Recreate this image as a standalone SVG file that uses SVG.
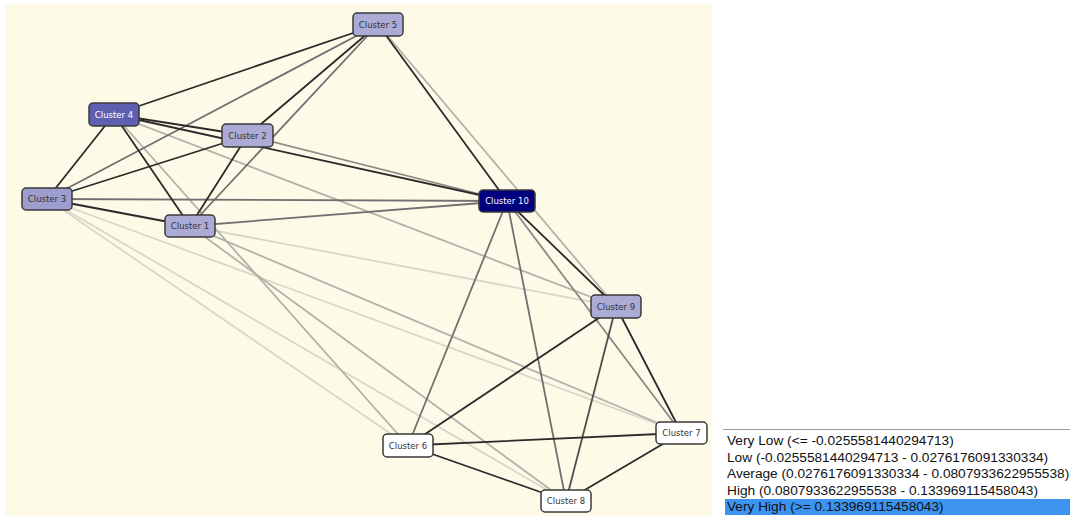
<svg xmlns="http://www.w3.org/2000/svg" width="1070" height="516" viewBox="0 0 1070 516">
<style>
.e{fill:none;stroke-width:1.8;stroke-linecap:round}
.d{stroke:#2b2b2b}
.md{stroke:#4f4f4f}
.m{stroke:#707070}
.ml{stroke:#8a8a86}
.l{stroke:#b2b2aa}
.vl{stroke:#d9d7c8}
.n rect{stroke:#3a3a3a;stroke-width:1.5}
.n text{font-family:"DejaVu Sans",Verdana,sans-serif;font-size:8.5px;text-anchor:middle;fill:#333}
.pale rect{fill:#ababd6}
.mid rect{fill:#9d9dcf}
.strong rect{fill:#5f5fb2}
.navy rect{fill:#00007f}
.white rect{fill:#ffffff}
.strong text,.navy text{fill:#ffffff}
.lg{font-family:"Liberation Sans",Arial,sans-serif;font-size:13.7px;fill:#111}
</style>
<rect x="0" y="0" width="1070" height="516" fill="#ffffff"/>
<rect x="5" y="4" width="707" height="512" fill="#fdfbe8"/>
<g id="connectors">
<line class="e vl" x1="47" y1="199" x2="616" y2="306.5"/>
<line class="e vl" x1="47" y1="199" x2="681.5" y2="433"/>
<line class="e vl" x1="47" y1="199" x2="566" y2="501"/>
<line class="e vl" x1="47" y1="199" x2="408" y2="445.5"/>
<line class="e l" x1="114" y1="114.5" x2="408" y2="445.5"/>
<line class="e l" x1="114" y1="114.5" x2="616" y2="306.5"/>
<line class="e l" x1="190" y1="226" x2="681.5" y2="433"/>
<line class="e l" x1="190" y1="226" x2="566" y2="501"/>
<line class="e l" x1="378" y1="24.5" x2="616" y2="306.5"/>
<line class="e ml" x1="247.5" y1="135.5" x2="507" y2="201"/>
<line class="e m" x1="47" y1="199" x2="507" y2="201"/>
<line class="e m" x1="190" y1="226" x2="507" y2="201"/>
<line class="e m" x1="378" y1="24.5" x2="47" y2="199"/>
<line class="e m" x1="378" y1="24.5" x2="190" y2="226"/>
<line class="e m" x1="507" y1="201" x2="408" y2="445.5"/>
<line class="e m" x1="507" y1="201" x2="566" y2="501"/>
<line class="e ml" x1="507" y1="201" x2="681.5" y2="433"/>
<line class="e md" x1="616" y1="306.5" x2="566" y2="501"/>
<line class="e d" x1="114" y1="114.5" x2="47" y2="199"/>
<line class="e d" x1="114" y1="114.5" x2="190" y2="226"/>
<line class="e d" x1="114" y1="114.5" x2="247.5" y2="135.5"/>
<line class="e d" x1="114" y1="114.5" x2="378" y2="24.5"/>
<line class="e d" x1="114" y1="114.5" x2="507" y2="201"/>
<line class="e d" x1="47" y1="199" x2="247.5" y2="135.5"/>
<line class="e d" x1="47" y1="199" x2="190" y2="226"/>
<line class="e d" x1="247.5" y1="135.5" x2="190" y2="226"/>
<line class="e d" x1="247.5" y1="135.5" x2="378" y2="24.5"/>
<line class="e d" x1="378" y1="24.5" x2="507" y2="201"/>
<line class="e d" x1="507" y1="201" x2="616" y2="306.5"/>
<line class="e d" x1="616" y1="306.5" x2="681.5" y2="433"/>
<line class="e d" x1="616" y1="306.5" x2="408" y2="445.5"/>
<line class="e d" x1="408" y1="445.5" x2="681.5" y2="433"/>
<line class="e d" x1="408" y1="445.5" x2="566" y2="501"/>
<line class="e d" x1="681.5" y1="433" x2="566" y2="501"/>
</g>
<g id="cluster5" class="n pale"><rect x="353" y="13" width="50" height="23" rx="4"/><text x="378" y="27.5">Cluster 5</text></g>
<g id="cluster4" class="n strong"><rect x="89" y="103" width="50" height="23" rx="4"/><text x="114" y="117.5">Cluster 4</text></g>
<g id="cluster2" class="n pale"><rect x="222" y="124" width="51" height="23" rx="4"/><text x="247.5" y="138.5">Cluster 2</text></g>
<g id="cluster3" class="n mid"><rect x="22" y="188" width="50" height="22" rx="4"/><text x="47" y="202">Cluster 3</text></g>
<g id="cluster1" class="n pale"><rect x="165" y="215" width="50" height="22" rx="4"/><text x="190" y="229">Cluster 1</text></g>
<g id="cluster10" class="n navy"><rect x="479" y="190" width="56" height="22" rx="4"/><text x="507" y="204">Cluster 10</text></g>
<g id="cluster9" class="n pale"><rect x="591" y="295" width="50" height="23" rx="4"/><text x="616" y="309.5">Cluster 9</text></g>
<g id="cluster6" class="n white"><rect x="383" y="434" width="50" height="23" rx="4"/><text x="408" y="448.5">Cluster 6</text></g>
<g id="cluster7" class="n white"><rect x="656" y="422" width="51" height="22" rx="4"/><text x="681.5" y="436">Cluster 7</text></g>
<g id="cluster8" class="n white"><rect x="541" y="490" width="50" height="22" rx="4"/><text x="566" y="504">Cluster 8</text></g>
<g id="legend">
<line x1="723" y1="429.5" x2="1070" y2="429.5" stroke="#9a9a9a" stroke-width="1"/>
<rect x="725" y="499" width="345" height="16" fill="#3d94f0"/>
<text class="lg" x="727" y="445">Very Low (&lt;= -0.0255581440294713)</text>
<text class="lg" x="727" y="461.5">Low (-0.0255581440294713 - 0.0276176091330334)</text>
<text class="lg" x="727" y="478">Average (0.0276176091330334 - 0.0807933622955538)</text>
<text class="lg" x="727" y="494.5">High (0.0807933622955538 - 0.133969115458043)</text>
<text class="lg" x="727" y="511" fill="#ffffff">Very High (&gt;= 0.133969115458043)</text>
</g>
</svg>
